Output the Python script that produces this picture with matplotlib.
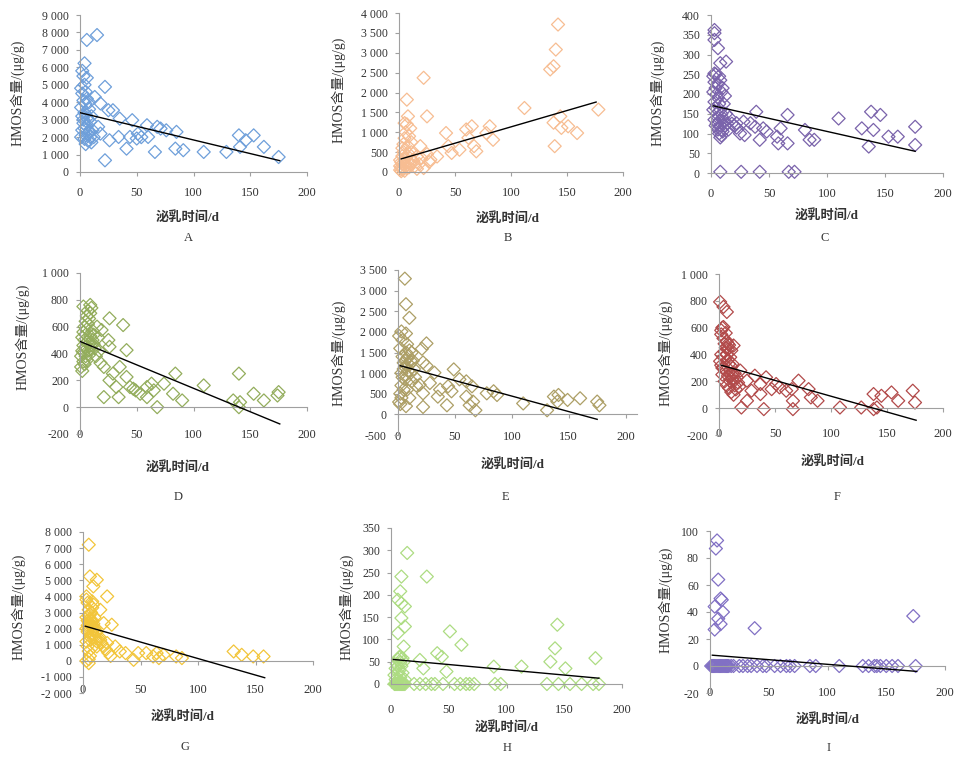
import numpy as np
import matplotlib
matplotlib.use('Agg')
import matplotlib.pyplot as plt
from matplotlib.ticker import FuncFormatter

plt.rcParams['font.family'] = ['Liberation Serif', 'Noto Sans CJK SC']

W, H = 957, 758
GRAY = '#a0a0a0'
XTICKS = [0, 50, 100, 150, 200]
YLABEL = 'HMOS含量/(μg/g)'
XLABEL = '泌乳时间/d'

# ---- data ----
xA = [6, 15, 4, 22, 25, 29, 35, 46, 44, 41, 22, 26, 34, 50, 59, 60, 66, 68, 71, 76, 85, 84, 91, 109,
      129, 140, 141, 146, 153, 162, 175, 51, 54, 18, 16, 18, 13,
      1, 2, 2, 3, 3, 4, 4, 5, 5, 5, 6, 6, 7, 7, 8, 8, 9, 10, 10, 11, 12, 1, 2, 3, 4, 6, 7, 8, 9, 3, 4,
      5, 6, 2, 1, 5]
yA = [7570, 7850, 6230, 4880, 3540, 3540, 3060, 2970, 2010, 1340, 670, 1820, 2010, 1920, 2680, 2010,
      1150, 2590, 2490, 2390, 2300, 1340, 1250, 1150, 1150, 2100, 1440, 1820, 2100, 1440, 860, 2200,
      2000, 2200, 2590, 3930, 4300,
      3700, 3200, 4500, 5500, 2800, 5000, 3400, 2100, 3900, 1600, 2600, 4200, 3000, 1800, 2300, 3600,
      2900, 1700, 3200, 2400, 2000, 2000, 2400, 4100, 1900, 5400, 2200, 4000, 2000, 3000, 2500, 3300,
      3100, 5800, 4800, 4600]
trendA_x = [0, 176]
trendA_y = [3400, 650]

xB = [142, 140, 138, 135, 22, 112, 178, 144, 138, 145, 139, 159, 151, 42, 44, 47, 60, 62, 65, 67,
      69, 54, 78, 84, 81, 34, 28, 16, 19, 25, 8, 7, 5,
      1, 2, 3, 4, 5, 6, 2, 3, 4, 5, 6, 7, 8, 9, 10, 1, 2, 3, 4, 5, 6, 7, 8, 9, 10, 11, 12, 1, 3, 5,
      7, 9, 11, 13, 14, 16, 18, 20, 22, 25, 27]
yB = [3710, 3080, 2660, 2580, 2370, 1610, 1570, 1400, 1240, 1110, 650, 980, 1150, 980, 650, 480,
      1070, 860, 1150, 650, 520, 560, 980, 810, 1150, 390, 310, 390, 650, 1400, 1400, 1820, 1230,
      50, 120, 200, 80, 300, 150, 250, 400, 500, 180, 350, 100, 250, 450, 200, 300, 20, 600, 700, 850,
      1000, 1200, 650, 900, 1100, 750, 300, 150, 60, 30, 420, 120, 500, 250, 150, 80, 200, 350, 100,
      450, 250]
trendB_x = [2, 176]
trendB_y = [330, 1760]

xC = [3, 3, 3, 6, 13, 8, 3, 8, 8, 26, 42, 67, 72, 22, 28, 34, 25, 29, 38, 42, 45, 48, 39, 57, 60,
      58, 66, 66, 81, 85, 89, 110, 130, 138, 140, 136, 146, 153, 161, 176, 176,
      2, 3, 4, 5, 6, 7, 8, 9, 10, 11, 12, 3, 4, 5, 6, 7, 8, 9, 10, 2, 4, 6, 7, 9, 11, 13, 14, 15, 3,
      5, 7, 9, 12, 2, 4, 6, 8, 10, 16, 18, 20, 22]
yC = [362, 354, 337, 316, 282, 278, 252, 235, 3, 3, 3, 3, 3, 126, 130, 126, 100, 96, 117, 84, 113,
      105, 155, 92, 113, 75, 147, 75, 109, 84, 84, 138, 113, 155, 109, 67, 147, 92, 92, 117, 71,
      245, 230, 215, 200, 190, 175, 160, 150, 140, 130, 120, 180, 165, 150, 140, 130, 120, 110, 105,
      205, 250, 225, 245, 205, 175, 150, 125, 110, 135, 125, 100, 95, 195, 160, 120, 110, 90, 215,
      140, 125, 120, 115]
trendC_x = [2, 176]
trendC_y = [170, 55]

xD = [9, 3, 26, 38, 19, 25, 26, 41, 35, 21, 29, 26, 41, 44, 49, 53, 59, 63, 65, 68, 74, 84, 82,
      90, 109, 140, 135, 140, 141, 153, 162, 174, 175, 21, 32, 34, 59, 47,
      1, 2, 3, 4, 5, 6, 7, 8, 9, 10, 2, 3, 4, 5, 6, 7, 1, 3, 5, 7, 9, 11, 12, 2, 4, 6, 8, 10, 12, 3,
      5, 7, 9, 11, 13, 14, 15, 16, 17, 18]
yD = [762, 750, 662, 612, 575, 500, 450, 425, 300, 300, 250, 200, 225, 150, 125, 100, 150, 175,
      125, 0, 175, 250, 100, 50, 162, 250, 50, 0, 37, 100, 50, 87, 112, 75, 150, 75, 75, 137,
      380, 420, 460, 500, 540, 580, 620, 660, 700, 740, 520, 560, 600, 640, 680, 720, 300, 340, 380,
      420, 460, 500, 540, 270, 320, 350, 390, 430, 470, 410, 450, 490, 530, 570, 440, 380, 600, 520,
      420, 330]
trendD_x = [0, 176]
trendD_y = [490, -125]

xE = [6, 7, 10, 3, 7, 25, 21, 22, 25, 32, 49, 28, 19, 22, 37, 44, 47, 35, 43, 54, 60, 65, 60, 66,
      68, 63, 78, 84, 87, 110, 131, 137, 141, 140, 149, 160, 175, 177, 22,
      1, 2, 3, 4, 5, 6, 7, 8, 9, 10, 11, 12, 2, 3, 4, 5, 6, 7, 8, 9, 10, 11, 1, 2, 4, 6, 8, 10, 12,
      14, 15, 16, 13, 3, 5, 7]
yE = [3290, 2670, 2340, 2010, 1960, 1720, 1590, 1260, 1180, 1010, 1090, 760, 720, 510, 600, 680,
      560, 430, 220, 850, 800, 680, 430, 310, 100, 220, 510, 560, 470, 265, 100, 430, 470, 310, 350,
      390, 310, 220, 180,
      300, 500, 700, 900, 1100, 1300, 1500, 1700, 1400, 1200, 1000, 800, 250, 1000, 1400, 1250,
      1150, 950, 1350, 1050, 1550, 1300, 1900, 1600, 1800, 850, 600, 400, 1500, 1100, 900, 700,
      1300, 400, 600, 200]
trendE_x = [2, 175]
trendE_y = [1180, -120]

xF = [1, 4, 7, 4, 2, 8, 13, 11, 20, 40, 66, 108, 127, 138, 141, 19, 25, 29, 32, 37, 42, 47, 51,
      54, 60, 65, 66, 71, 80, 82, 88, 138, 145, 154, 160, 173, 175, 25, 37,
      1, 2, 3, 4, 5, 6, 7, 8, 9, 10, 11, 12, 13, 14, 15, 2, 3, 4, 5, 6, 7, 8, 9, 10, 11, 12, 3, 5, 7,
      9, 11, 13, 2, 4, 6, 8, 10, 12, 14, 16, 17, 18]
yF = [792, 755, 717, 605, 580, 480, 467, 430, 5, -7, -7, 5, 5, -7, 5, 280, 205, 130, 242, 180,
      230, 142, 180, 155, 130, 142, 55, 205, 142, 80, 55, 105, 92, 117, 55, 130, 42, 55, 105,
      350, 320, 300, 380, 420, 450, 400, 360, 330, 280, 250, 220, 200, 170, 140, 550, 600, 520,
      480, 560, 500, 440, 470, 380, 310, 260, 250, 200, 170, 150, 120, 100, 400, 300, 280, 240,
      200, 330, 260, 230, 190, 160]
trendF_x = [2, 176]
trendF_y = [320, -90]

xG = [5, 6, 12, 9, 21, 3, 8, 5, 15, 18, 25, 6, 12, 21, 28, 32, 37, 44, 48, 55, 61, 66, 64, 70,
      81, 86, 131, 138, 148, 157, 5, 6, 9, 15,
      3, 4, 5, 6, 7, 8, 9, 4, 5, 6, 7, 8, 9, 10, 3, 5, 7, 6, 4, 8, 10, 11, 12, 3, 4, 5, 6, 7, 8, 9,
      4, 3, 10, 12, 14, 16, 18, 20, 22, 24, 3, 5]
yG = [7210, 5240, 5030, 4620, 4000, 4000, 3690, 3170, 3170, 2340, 2240, 2860, 890, 1100, 890, 580,
      480, 60, 480, 480, 270, 170, 480, 370, 270, 170, 580, 370, 270, 270, -145, 1300, 890, 1300,
      2000, 2200, 2400, 2600, 2300, 2100, 1900, 1800, 2000, 2200, 2500, 1700, 2300, 2000, 2700,
      2800, 1600, 1500, 2500, 2500, 1600, 1400, 1200, 1200, 900, 600, 300, 3000, 3300, 3500, 3600,
      3800, 2700, 1800, 1500, 1100, 900, 700, 500, 300, 0, 100]
trendG_x = [2, 158]
trendG_y = [2150, -1050]

xH = [14, 31, 9, 8, 6, 9, 12, 9, 12, 6, 11, 8, 6, 51, 61, 40, 44, 25, 28, 48, 89, 113, 144, 142,
      138, 151, 177, 6,
      3, 4, 5, 6, 7, 8, 9, 10, 11, 12, 5, 7, 9, 4, 6, 8, 10,
      3, 4, 5, 6, 7, 8, 9, 10, 11, 12, 20, 25, 30, 35, 38, 45, 55, 60, 65, 68, 72, 90, 95, 135, 145,
      155, 165, 175, 180]
yH = [294, 241, 241, 208, 189, 181, 174, 148, 129, 114, 84, 61, 39, 118, 88, 69, 61, 54, 35, 28,
      39, 39, 133, 80, 50, 35, 58, 9,
      20, 35, 45, 55, 30, 15, 40, 25, 50, 10, 5, 60, 5, 10, 25, 48, 58,
      0, 0, 0, 0, 0, 0, 0, 0, 0, 0, 0, 0, 0, 0, 0, 0, 0, 0, 0, 0, 0, 0, 0, 0, 0,
      0, 0, 0, 0]
trendH_x = [2, 180]
trendH_y = [55, 13]

xI = [6, 5, 7, 4, 9, 10, 11, 7, 9, 4, 38, 173,
      1, 2, 3, 4, 5, 6, 7, 8, 9, 10, 11, 12, 13, 14, 15, 16, 18, 20, 25, 28, 32, 35, 40, 45, 48, 55,
      60, 65, 68, 72, 85, 90, 110, 130, 135, 140, 142, 145, 150, 155, 160, 175]
yI = [93, 87, 64, 44, 50, 49, 40, 35, 31, 27, 28, 37,
      0, 0, 0, 0, 0, 0, 0, 0, 0, 0, 0, 0, 0, 0, 0, 0, 0, 0, 0, 0, 0, 0, 0, 0, 0, 0,
      0, 0, 0, 0, 0, 0, 0, 0, 0, 0, 0, 0, 0, 0, 0, 0]
trendI_x = [2, 176]
trendI_y = [8, -4]

colors = ['#6e9fda', '#f7bd92', '#7a63ab', '#93ad5c', '#ad9f66', '#b24a4a', '#f2c53a', '#addc82',
          '#8170c4']
letters = ['A', 'B', 'C', 'D', 'E', 'F', 'G', 'H', 'I']


def fmt(v, pos):
    s = '{:,}'.format(int(round(v)))
    return s.replace(',', ' ')


def panel(box, x, y, tx, ty, color, ylim, ystep, xmax, lab_y, ylab_xy, xlab_xy, letter_xy, letter):
    l, r, t, b = box
    ax = fig.add_axes([l / W, 1 - b / H, (r - l) / W, (b - t) / H])
    ax.patch.set_alpha(0)
    ax.scatter(x, y, marker='D', s=44, facecolors='none', edgecolors=color,
               linewidths=0.9, clip_on=False, zorder=2)
    ax.plot(tx, ty, color='black', lw=1.0, zorder=3)
    ax.set_xlim(0, xmax)
    ax.set_ylim(*ylim)
    ax.set_yticks(np.arange(ylim[0], ylim[1] + ystep / 2, ystep))
    ax.yaxis.set_major_formatter(FuncFormatter(fmt))
    ax.set_xticks(XTICKS)
    for s in ('top', 'right'):
        ax.spines[s].set_visible(False)
    ax.spines['left'].set_color(GRAY)
    ax.spines['bottom'].set_color(GRAY)
    ax.spines['bottom'].set_position(('data', 0))
    ax.tick_params(axis='y', length=3, color=GRAY, pad=5, labelsize=8.5, labelcolor='#333333')
    ax.tick_params(axis='x', length=3, color=GRAY, labelbottom=False)
    # x tick labels sit below the plot, like Excel's "low" labels
    loc = (b - (lab_y - 6)) / (b - t)
    sec = ax.secondary_xaxis(loc)
    sec.set_xticks(XTICKS)
    sec.spines['bottom'].set_visible(False)
    sec.tick_params(length=0, pad=0, labelsize=9, labelcolor='#333333')
    fig.text(ylab_xy[0] / W, 1 - ylab_xy[1] / H, YLABEL, rotation=90, ha='center', va='center',
             fontsize=10, color='#333333')
    fig.text(xlab_xy[0] / W, 1 - xlab_xy[1] / H, XLABEL, ha='center', va='center',
             fontsize=9.5, fontweight='bold', color='#333333')
    fig.text(letter_xy[0] / W, 1 - letter_xy[1] / H, letter, ha='center', va='center',
             fontsize=9, color='#333333')
    return ax


fig = plt.figure(figsize=(W / 100, H / 100), dpi=100)

panel((80, 307, 15, 172), xA, yA, trendA_x, trendA_y, colors[0], (0, 9000), 1000, 200, 193,
      (17, 93), (188, 218), (188, 238), letters[0])
panel((399, 623, 13, 172), xB, yB, trendB_x, trendB_y, colors[1], (0, 4000), 500, 200, 193,
      (338, 90), (508, 219), (508, 238), letters[1])
panel((711, 943, 15, 173), xC, yC, trendC_x, trendC_y, colors[2], (0, 400), 50, 200, 194,
      (657, 93), (827, 216), (825, 238), letters[2])
panel((80, 307, 273, 434), xD, yD, trendD_x, trendD_y, colors[3], (-200, 1000), 200, 200, 435,
      (22, 337), (178, 468), (178, 497), letters[3])
panel((398, 637, 270, 435), xE, yE, trendE_x, trendE_y, colors[4], (-500, 3500), 500, 210, 437,
      (338, 353), (513, 465), (505, 497), letters[4])
panel((719, 943, 274, 435), xF, yF, trendF_x, trendF_y, colors[5], (-200, 1000), 200, 200, 434,
      (665, 353), (833, 462), (837, 497), letters[5])
panel((83, 313, 532, 693), xG, yG, trendG_x, trendG_y, colors[6], (-2000, 8000), 1000, 200, 690,
      (18, 607), (183, 717), (185, 747), letters[6])
panel((391, 622, 528, 684), xH, yH, trendH_x, trendH_y, colors[7], (0, 350), 50, 200, 710,
      (346, 607), (507, 728), (507, 748), letters[7])
panel((710, 945, 531, 693), xI, yI, trendI_x, trendI_y, colors[8], (-20, 100), 20, 200, 693,
      (665, 600), (828, 720), (829, 748), letters[8])

fig.savefig('out.png', dpi=100)
